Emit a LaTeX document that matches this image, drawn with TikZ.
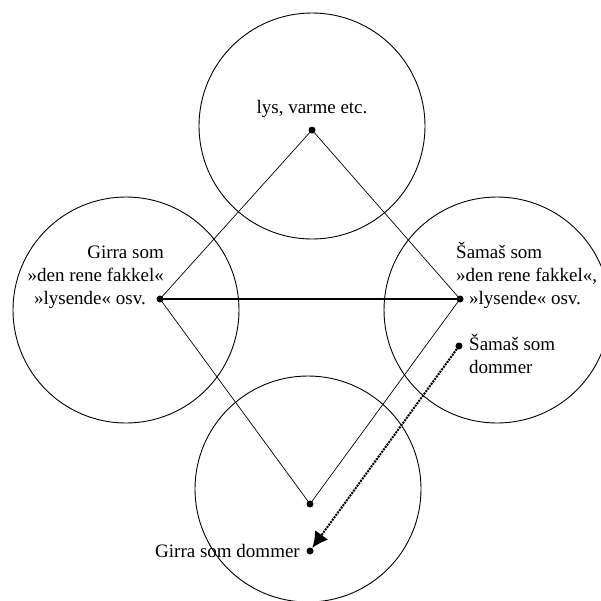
\documentclass[tikz,border=0pt]{standalone}
\usepackage{fontspec}
\setmainfont{Liberation Serif}
\usetikzlibrary{positioning, arrows.meta, calc}
\definecolor{diaInk}{HTML}{000000}
\tikzset{
  sirkel/.style={draw=diaInk, line width=0.9pt},
  punkt/.style={circle, fill=diaInk, inner sep=0pt, minimum size=7pt},
  tekst/.style={inner sep=0pt, font=\fontsize{19}{23}\selectfont, text=diaInk},
  tynn/.style={draw=diaInk, line width=0.7pt},
  tykk/.style={draw=diaInk, line width=2pt},
  dom/.style={draw=diaInk, line width=2pt, densely dotted,
              -{Latex[length=16pt, width=16pt]}}
}

\begin{document}
\begin{tikzpicture}[x=1pt, y=-1pt]
    \useasboundingbox (0,0) rectangle (601,600);
    \begin{scope}
      \clip (0,0) rectangle (601,600);
      \draw[sirkel] (312,126) circle[radius=113pt];
      \draw[sirkel] (126,310) circle[radius=113pt];
      \draw[sirkel] (497,310) circle[radius=113pt];
      \draw[sirkel] (308,489) circle[radius=113pt];
    \end{scope}
    \node[punkt] (lys) at (312,130) {};
    \node[punkt] (girraF) at (160,299) {};
    \node[punkt] (samasF) at (460,299) {};
    \node[punkt] (girraD) at (310,504) {};
    \node[punkt] (samasDom) at (459,346) {};
    \node[punkt] (girraDom) at (310,551) {};
    \draw[tynn] (lys.center) -- (girraF.center) -- (girraD.center) -- (samasF.center) -- (lys.center);
    \draw[tykk] (girraF.center) -- (samasF.center);
    \draw[dom] (samasDom) -- (girraDom);
    \node[tekst, anchor=base] (lysT) at (312,113) {lys, varme etc.};
    \node[tekst, anchor=base east, align=right] (girraFT) at (164,304)
        {Girra som\\»den rene fakkel«\\»lysende« osv.\hspace*{18pt}};
    \node[tekst, anchor=base west, align=left] (samasFT) at (456,304)
        {Šamaš som\\»den rene fakkel«,\\\hspace*{13pt}»lysende« osv.};
    \node[tekst, anchor=base west, align=left] (samasDomT) at (469,373)
        {Šamaš som\\dommer};
    \node[tekst, anchor=base east] (girraDomT) at (300,557) {Girra som dommer};
  \end{tikzpicture}
\end{document}
